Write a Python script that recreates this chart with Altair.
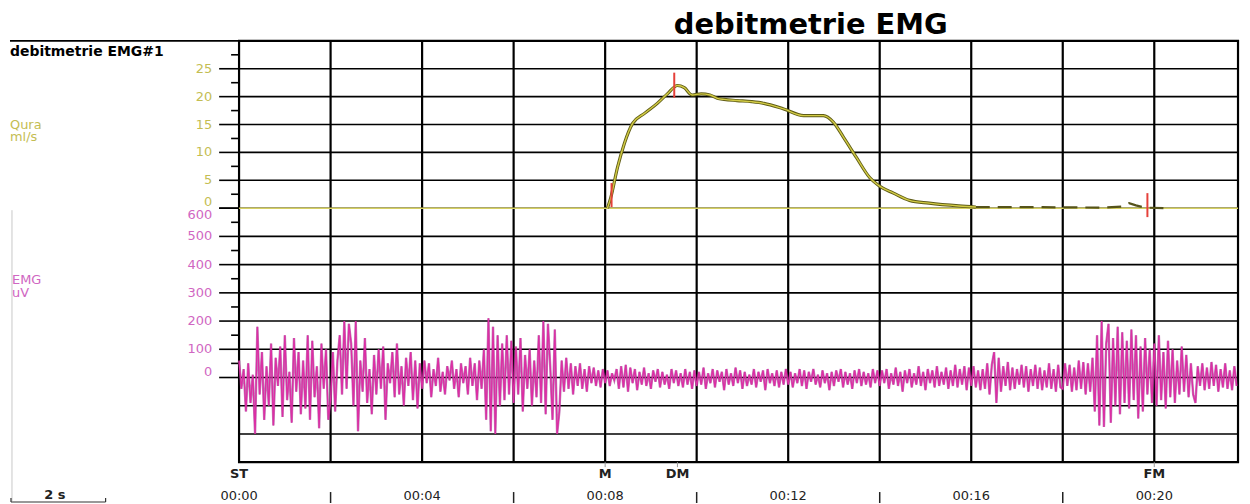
import altair as alt
import pandas as pd

# ---------------- data ----------------
grid_t = [2, 4, 6, 8, 10, 12, 14, 16, 18, 20]
time_label_t = [0, 4, 8, 12, 16, 20]
time_labels = ["00:00", "00:04", "00:08", "00:12", "00:16", "00:20"]
half_tick_t = [2, 6, 10, 14, 18]
event_t = [0, 8.0, 9.58, 20.0]
event_labels = ["ST", "M", "DM", "FM"]

flow_grid = [0, 5, 10, 15, 20, 25]
flow_major = [0, 5, 10, 15, 20, 25]
flow_minor = [2.5, 7.5, 12.5, 17.5, 22.5, 27.5]
emg_grid = [-200, -100, 0, 100, 200, 300, 400, 500]
emg_major = [0, 100, 200, 300, 400, 500, 600]
emg_minor = [50, 150, 250, 350, 450, 550]

# flow curve (ml/s)
flow_t = [8.05, 8.12, 8.27, 8.42, 8.60, 8.86, 9.14, 9.36, 9.58, 9.73, 9.90, 10.10,
          10.29, 10.45, 10.60, 10.88, 11.20, 11.47, 11.90, 12.34, 12.77, 12.99, 13.21, 13.49,
          13.78, 13.97, 14.30, 14.65, 15.08, 15.73, 16.10]
flow_v = [0.0, 1.8, 7.3, 11.6, 15.2, 17.0, 18.8, 20.5, 22.0, 21.6, 20.3, 20.5,
          20.3, 19.7, 19.5, 19.3, 19.1, 18.8, 17.8, 16.6, 16.6, 15.4, 12.7, 9.1,
          5.5, 4.1, 2.7, 1.4, 0.9, 0.4, 0.2]
tail_t = [16.10, 17.0, 18.0, 18.9, 19.3, 19.45, 19.6, 19.8, 20.2]
tail_v = [0.2, 0.2, 0.15, 0.1, 0.3, 0.9, 0.5, 0.1, 0.0]
base_t = [0, 21.83]
base_v = [0, 0]

marker_t = [8.14, 9.51, 19.85]
marker_lo = [0.2, 19.8, -1.6]
marker_hi = [4.5, 24.3, 2.7]

# EMG trace (uV), 0.05 s sampling, one list per 2 s window
emg_00_02 = [60, -40, 30, -120, 50, -90, 10, -200, 180, -60, 90, -150, 40, -100, 120, -170, 70, -30, 110, -140,
             150, -80, 20, -160, 140, -50, 90, -130, 60, -110, 150, -150, 130, -70, 40, -180, 120, -40, 100, -150]
emg_02_04 = [-80, 90, -120, 60, 150, -60, 200, -40, 190, 120, -100, 200, -190, 60, -50, 140, -90, 30, -130, 80,
             -60, 100, -40, 110, -150, 50, -20, 90, -70, 120, -60, 40, -100, 70, -30, 90, -80, 60, -110, 50]
emg_04_06 = [-40, 60, -20, 50, -70, 30, -30, 70, -50, 20, -60, 40, -10, 60, -40, 30, -70, 50, -20, 40,
             -60, 70, -30, 50, -80, 60, -40, 100, -150, 210, -190, 180, -200, 150, -100, 120, -80, 150, -60, 130]
emg_06_08 = [-90, 110, -60, 140, -120, 80, -40, 100, -100, 60, -70, 150, -90, 200, -130, 190, 40, -150, 170, -200,
             -120, 60, -50, 70, -40, 50, -60, 40, -30, 50, -40, 30, -50, 40, -20, 35, -30, 25, -35, 30]
emg_08_10 = [-20, 25, -30, 15, -10, 30, -40, 40, -35, 45, -50, 35, -20, 30, -45, 20, -25, 35, -30, 15,
             -40, 25, -15, 30, -35, 20, -25, 10, -40, 30, -20, 25, -30, 15, -35, 30, -25, 20, -40, 25]
emg_10_12 = [-30, 20, -25, 35, -40, 15, -20, 30, -35, 25, -15, 20, -45, 30, -25, 15, -30, 35, -20, 25,
             -40, 20, -30, 10, -25, 30, -35, 20, -15, 25, -45, 30, -20, 15, -30, 25, -35, 20, -25, 30]
emg_12_14 = [-25, 20, -35, 15, -20, 30, -30, 25, -40, 20, -15, 30, -25, 10, -35, 25, -20, 15, -45, 20,
             -30, 25, -15, 30, -35, 20, -25, 15, -40, 25, -20, 30, -30, 20, -25, 15, -35, 30, -20, 25]
emg_14_16 = [-30, 25, -20, 30, -40, 15, -25, 35, -30, 20, -50, 25, -20, 30, -35, 15, -25, 40, -30, 20,
             -45, 30, -20, 25, -35, 40, -30, 20, -25, 35, -40, 25, -30, 45, -35, 30, -25, 40, -45, 35]
emg_16_18 = [-30, 40, -35, 25, -45, 30, -40, 50, -60, 45, 90, -90, 70, -50, 40, -30, 55, -45, 35, -40,
             30, -25, 45, -35, 40, -50, 30, -30, 45, -40, 35, -45, 25, -35, 50, -40, 30, -50, 45, -35]
emg_18_20 = [-40, 50, -30, 45, -50, 35, -45, 60, -40, 55, -60, 50, -50, 70, -120, 150, -170, 200, -175, 120,
             190, -160, 140, -100, 180, -130, 160, -90, 130, -110, 170, -80, 150, -145, 110, -120, 140, -60, 100, -90]
emg_20_22 = [120, -100, 150, -80, 90, -110, 130, -70, 100, -90, 60, -60, 110, -50, 80, -70, 50, -60, -90, 40,
             -30, 50, -45, 35, -40, 55, -30, 45, -50, 30, -35, 50, -40, 25, -45, 40, -30]
emg_windows = [emg_00_02, emg_02_04, emg_04_06, emg_06_08, emg_08_10, emg_10_12,
               emg_12_14, emg_14_16, emg_16_18, emg_18_20, emg_20_22]
EMG_DT = 0.05

# ---------------- geometry ----------------
W, H = 1003, 423
T_MAX = 21.83
FLOW_DOM = [-45.54, 30]
EMG_DOM = [-300, 1192.94]

FONT = "DejaVu Sans"
FLOW_COL = "#c4bd52"
EMG_COL = "#d066c2"

X_T = alt.X("t:Q", scale=alt.Scale(domain=[0, T_MAX], nice=False, zero=False), axis=None)


def y_flow(field="v"):
    return alt.Y(f"{field}:Q", scale=alt.Scale(domain=FLOW_DOM, nice=False, zero=False), axis=None)


def y_emg(field="v"):
    return alt.Y(f"{field}:Q", scale=alt.Scale(domain=EMG_DOM, nice=False, zero=False), axis=None)


def fixed_text(label, x, y, size, color, weight="normal", align="left", baseline="middle"):
    return alt.Chart(pd.DataFrame({"label": [label]})).mark_text(
        align=align, baseline=baseline, fontSize=size, fontWeight=weight, color=color, font=FONT
    ).encode(x=alt.value(x), y=alt.value(y), text="label:N")


layers = []

# horizontal grid
layers.append(alt.Chart(pd.DataFrame({"v": flow_grid})).mark_rule(color="black", strokeWidth=1.6).encode(
    y=y_flow(), x=alt.value(0), x2=alt.value(W)))
layers.append(alt.Chart(pd.DataFrame({"v": emg_grid})).mark_rule(color="black", strokeWidth=1.6).encode(
    y=y_emg(), x=alt.value(0), x2=alt.value(W)))
# vertical grid
layers.append(alt.Chart(pd.DataFrame({"t": grid_t})).mark_rule(color="black", strokeWidth=2.2).encode(
    x=X_T, y=alt.value(0), y2=alt.value(H)))
# border
layers.append(alt.Chart(pd.DataFrame({"k": [0]})).mark_rect(filled=False, color="black", strokeWidth=2.2).encode(
    x=alt.value(0), x2=alt.value(W), y=alt.value(0), y2=alt.value(H)))
layers.append(alt.Chart(pd.DataFrame({"k": [0]})).mark_rule(color="black", strokeWidth=1.6).encode(
    x=alt.value(-230), x2=alt.value(0), y=alt.value(0)))
layers.append(alt.Chart(pd.DataFrame({"k": [0]})).mark_rule(color="#c8c8c8", strokeWidth=1).encode(
    x=alt.value(-228), y=alt.value(170), y2=alt.value(462)))

# left ticks
layers.append(alt.Chart(pd.DataFrame({"v": flow_major})).mark_rule(color="black", strokeWidth=1.6).encode(
    y=y_flow(), x=alt.value(-20), x2=alt.value(0)))
layers.append(alt.Chart(pd.DataFrame({"v": flow_minor})).mark_rule(color="black", strokeWidth=1.6).encode(
    y=y_flow(), x=alt.value(-8), x2=alt.value(0)))
layers.append(alt.Chart(pd.DataFrame({"v": emg_major})).mark_rule(color="black", strokeWidth=1.6).encode(
    y=y_emg(), x=alt.value(-20), x2=alt.value(0)))
layers.append(alt.Chart(pd.DataFrame({"v": emg_minor})).mark_rule(color="black", strokeWidth=1.6).encode(
    y=y_emg(), x=alt.value(-8), x2=alt.value(0)))

# tick labels
LBL = 13
flow_lab = pd.DataFrame({"v": flow_major[1:], "lab": [str(v) for v in flow_major[1:]]})
layers.append(alt.Chart(flow_lab).mark_text(align="right", baseline="middle", fontSize=LBL, color=FLOW_COL, font=FONT).encode(
    y=y_flow(), x=alt.value(-27), text="lab:N"))
layers.append(alt.Chart(pd.DataFrame({"v": [0], "lab": ["0"]})).mark_text(
    align="right", baseline="middle", dy=-6, fontSize=LBL, color=FLOW_COL, font=FONT).encode(
    y=y_flow(), x=alt.value(-27), text="lab:N"))
emg_lab = pd.DataFrame({"v": emg_major[1:-1], "lab": [str(v) for v in emg_major[1:-1]]})
layers.append(alt.Chart(emg_lab).mark_text(align="right", baseline="middle", fontSize=LBL, color=EMG_COL, font=FONT).encode(
    y=y_emg(), x=alt.value(-27), text="lab:N"))
layers.append(alt.Chart(pd.DataFrame({"v": [0], "lab": ["0"]})).mark_text(
    align="right", baseline="middle", dy=-6, fontSize=LBL, color=EMG_COL, font=FONT).encode(
    y=y_emg(), x=alt.value(-27), text="lab:N"))
layers.append(alt.Chart(pd.DataFrame({"v": [600], "lab": ["600"]})).mark_text(
    align="right", baseline="middle", dy=7, fontSize=LBL, color=EMG_COL, font=FONT).encode(
    y=y_emg(), x=alt.value(-27), text="lab:N"))

# EMG trace
emg_rows = []
for k, win in enumerate(emg_windows):
    for j, val in enumerate(win):
        emg_rows.append({"t": 2 * k + j * EMG_DT, "v": val})
emg_df = pd.DataFrame(emg_rows)
layers.append(alt.Chart(emg_df).mark_line(color="#9a2a8a", strokeWidth=2.4, opacity=0.6).encode(
    x=X_T, y=y_emg(), order="t:Q"))
layers.append(alt.Chart(emg_df).mark_line(color="#dc2ea4", strokeWidth=1.3).encode(
    x=X_T, y=y_emg(), order="t:Q"))

# flow traces
layers.append(alt.Chart(pd.DataFrame({"t": base_t, "v": base_v})).mark_line(color="#d6d060", strokeWidth=1.6).encode(
    x=X_T, y=y_flow()))
tail_df = pd.DataFrame({"t": tail_t, "v": tail_v})
layers.append(alt.Chart(tail_df).mark_line(color="#55531a", strokeWidth=2.2, strokeDash=[14, 8]).encode(
    x=X_T, y=y_flow(), order="t:Q"))
flow_df = pd.DataFrame({"t": flow_t, "v": flow_v})
layers.append(alt.Chart(flow_df).mark_line(color="#5f5c16", strokeWidth=3.2, interpolate="monotone").encode(
    x=X_T, y=y_flow(), order="t:Q"))
layers.append(alt.Chart(flow_df).mark_line(color="#d2cb45", strokeWidth=1.4, interpolate="monotone").encode(
    x=X_T, y=y_flow(), order="t:Q"))

# red markers
mk = pd.DataFrame({"t": marker_t, "lo": marker_lo, "hi": marker_hi})
layers.append(alt.Chart(mk).mark_rule(color="#e5403a", strokeWidth=2).encode(
    x=X_T, y=y_flow("lo"), y2="hi:Q"))

# event labels and ticks below plot
ev = pd.DataFrame({"t": event_t, "lab": event_labels})
layers.append(alt.Chart(ev).mark_text(fontSize=13, fontWeight="bold", color="#222222", font=FONT, baseline="middle").encode(
    x=X_T, y=alt.value(435), text="lab:N"))
layers.append(alt.Chart(ev[ev["lab"] != "ST"]).mark_rule(color="#999999", strokeWidth=1).encode(
    x=X_T, y=alt.value(H), y2=alt.value(H + 5)))

# time labels
tl = pd.DataFrame({"t": time_label_t, "lab": time_labels})
layers.append(alt.Chart(tl).mark_text(fontSize=13, color="#222222", font=FONT, baseline="middle").encode(
    x=X_T, y=alt.value(457), text="lab:N"))
layers.append(alt.Chart(pd.DataFrame({"t": half_tick_t})).mark_rule(color="#222222", strokeWidth=1.5).encode(
    x=X_T, y=alt.value(453), y2=alt.value(464)))

# 2 s scale bar
layers.append(fixed_text("2 s", -185, 456, 13, "#222222", weight="bold", align="center"))
layers.append(alt.Chart(pd.DataFrame({"k": [0]})).mark_rule(color="#333333", strokeWidth=1.2).encode(
    x=alt.value(-229), x2=alt.value(-134), y=alt.value(463)))
layers.append(alt.Chart(pd.DataFrame({"x": [-229, -134]})).mark_rule(color="#333333", strokeWidth=1.2).encode(
    x=alt.X("x:Q", scale=None), y=alt.value(459), y2=alt.value(463)))

# texts
layers.append(fixed_text("debitmetrie EMG", 574, -16, 29, "black", weight="bold", align="center"))
layers.append(fixed_text("debitmetrie EMG#1", -230, 11, 14, "black", weight="bold"))
layers.append(fixed_text("Qura", -230, 84, 13, FLOW_COL))
layers.append(fixed_text("ml/s", -230, 97, 13, FLOW_COL))
layers.append(fixed_text("EMG", -228, 240, 13, EMG_COL))
layers.append(fixed_text("uV", -228, 253, 13, EMG_COL))

chart = alt.layer(*layers).resolve_scale(y="independent").properties(
    width=W,
    height=H,
    autosize=alt.AutoSizeParams(type="none"),
    padding={"left": 232, "top": 32, "right": 4, "bottom": 41},
    background="white",
).configure_view(strokeWidth=0)

chart.save("out.html", embed_options={"renderer": "svg", "actions": False})
